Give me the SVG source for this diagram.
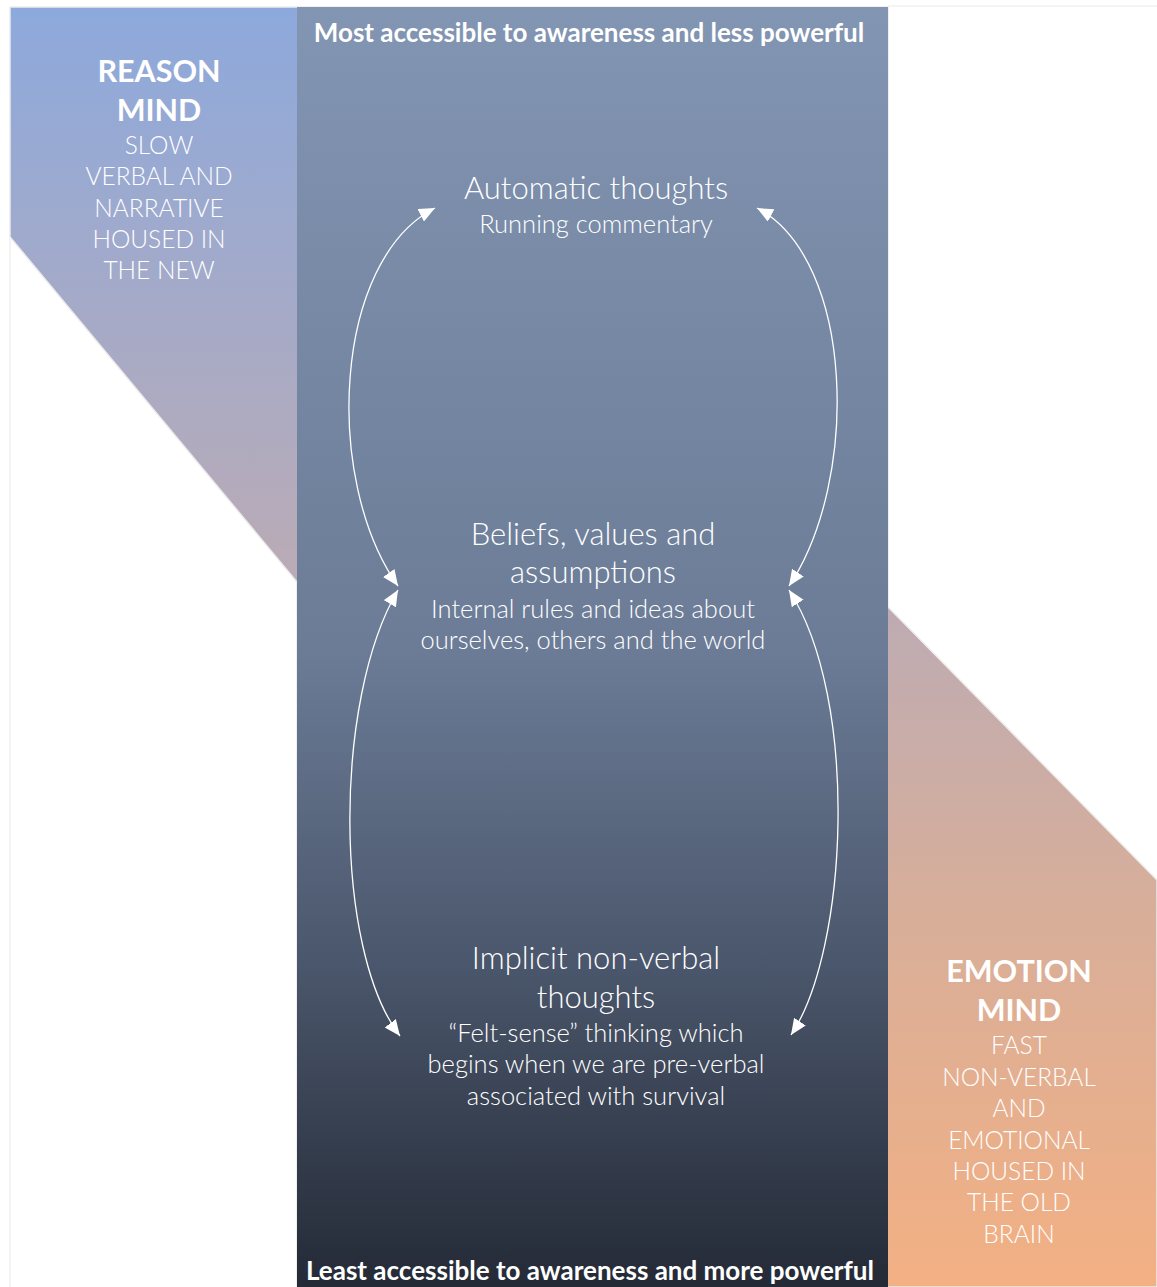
<svg xmlns="http://www.w3.org/2000/svg" width="1157" height="1287" viewBox="0 0 1157 1287">
  <style>
    .t{font-family:Lato,"Noto Sans","Liberation Sans",sans-serif;fill:#ffffff;text-anchor:middle}
    .b{font-weight:700}
    .l{font-weight:300}
    .conn{fill:none;stroke:#ffffff;stroke-width:1.3}
  </style>
  <defs>
    <linearGradient id="side" x1="0" y1="7" x2="0" y2="1287" gradientUnits="userSpaceOnUse">
      <stop offset="0" stop-color="#8DA9DC"/>
      <stop offset="0.45" stop-color="#BBABB5"/>
      <stop offset="0.7" stop-color="#D7AE9A"/>
      <stop offset="1" stop-color="#F3B083"/>
    </linearGradient>
    <linearGradient id="center" x1="0" y1="7" x2="0" y2="1287" gradientUnits="userSpaceOnUse">
      <stop offset="0" stop-color="#8295B2"/>
      <stop offset="0.5" stop-color="#6C7C97"/>
      <stop offset="0.75" stop-color="#4A566B"/>
      <stop offset="1" stop-color="#242A36"/>
    </linearGradient>
    <marker id="ah" markerUnits="userSpaceOnUse" markerWidth="18" markerHeight="16" refX="16" refY="7" orient="auto-start-reverse">
      <path d="M0,0 L16,7 L0,14 Z" fill="#ffffff"/>
    </marker>
  </defs>

  <rect x="0" y="0" width="1157" height="1287" fill="#ffffff"/>
  <g id="background">
    <polygon points="10,7 888,7 888,607 1157,880 1157,1287 297,1287 297,582 10,237" fill="url(#side)" stroke="#ececec" stroke-width="1.5"/>
    <line x1="888" y1="6" x2="1157" y2="6" stroke="#f0f0f0" stroke-width="1.5"/>
    <line x1="10" y1="237" x2="10" y2="1287" stroke="#f0f0f0" stroke-width="1.5"/>
    <rect x="297" y="7" width="591" height="1280" fill="url(#center)"/>
  </g>

  <g id="reason-mind">
    <text class="t b" x="159" y="82" font-size="30.5">REASON</text>
    <text class="t b" x="159" y="121" font-size="30.5">MIND</text>
    <text class="t l" x="159" y="154" font-size="24.5">SLOW</text>
    <text class="t l" x="159" y="185" font-size="24.5">VERBAL AND</text>
    <text class="t l" x="159" y="217" font-size="24.5">NARRATIVE</text>
    <text class="t l" x="159" y="248" font-size="24.5">HOUSED IN</text>
    <text class="t l" x="159" y="279" font-size="24.5">THE NEW</text>
  </g>

  <g id="emotion-mind">
    <text class="t b" x="1019" y="982" font-size="30.5">EMOTION</text>
    <text class="t b" x="1019" y="1021" font-size="30.5">MIND</text>
    <text class="t l" x="1019" y="1054" font-size="24.5">FAST</text>
    <text class="t l" x="1019" y="1086" font-size="24.5">NON-VERBAL</text>
    <text class="t l" x="1019" y="1117" font-size="24.5">AND</text>
    <text class="t l" x="1019" y="1149" font-size="24.5">EMOTIONAL</text>
    <text class="t l" x="1019" y="1180" font-size="24.5">HOUSED IN</text>
    <text class="t l" x="1019" y="1211" font-size="24.5">THE OLD</text>
    <text class="t l" x="1019" y="1243" font-size="24.5">BRAIN</text>
  </g>

  <g id="top-label">
    <text class="t b" x="589" y="41.5" font-size="26">Most accessible to awareness and less powerful</text>
  </g>
  <g id="bottom-label">
    <text class="t b" x="590" y="1280" font-size="26">Least accessible to awareness and more powerful</text>
  </g>

  <g id="automatic-thoughts">
    <text class="t l" x="596" y="199" font-size="31">Automatic thoughts</text>
    <text class="t l" x="596" y="233" font-size="25.5">Running commentary</text>
  </g>

  <g id="beliefs">
    <text class="t l" x="593" y="545" font-size="31">Beliefs, values and</text>
    <text class="t l" x="593" y="583" font-size="31">assumptions</text>
    <text class="t l" x="593" y="618" font-size="25.5">Internal rules and ideas about</text>
    <text class="t l" x="593" y="649" font-size="25.5">ourselves, others and the world</text>
  </g>

  <g id="implicit">
    <text class="t l" x="596" y="969" font-size="31">Implicit non-verbal</text>
    <text class="t l" x="596" y="1008" font-size="31">thoughts</text>
    <text class="t l" x="596" y="1042" font-size="25.5">“Felt-sense” thinking which</text>
    <text class="t l" x="596" y="1073" font-size="25.5">begins when we are pre-verbal</text>
    <text class="t l" x="596" y="1105" font-size="25.5">associated with survival</text>
  </g>

  <g id="connectors">
    <path class="conn" d="M398,586 C323,480 333,260 435,208" marker-start="url(#ah)" marker-end="url(#ah)"/>
    <path class="conn" d="M398,590 C333,700 334,950 400,1036" marker-start="url(#ah)" marker-end="url(#ah)"/>
    <path class="conn" d="M757,208 C855,260 860,480 789,586" marker-start="url(#ah)" marker-end="url(#ah)"/>
    <path class="conn" d="M789,590 C860,700 848,950 791,1035" marker-start="url(#ah)" marker-end="url(#ah)"/>
  </g>
</svg>
